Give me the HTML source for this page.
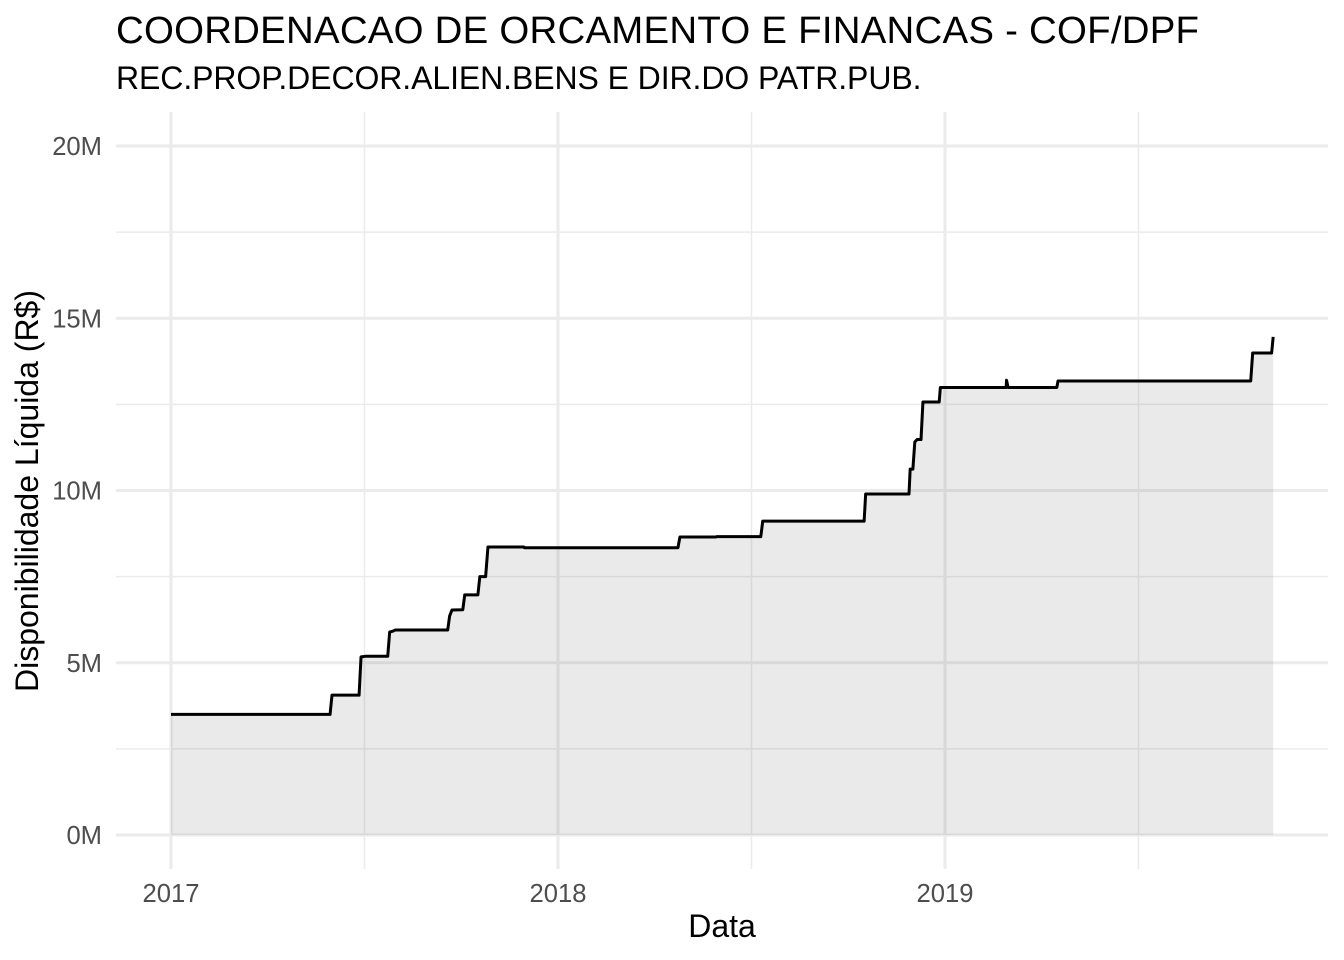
<!DOCTYPE html>
<html lang="pt">
<head>
<meta charset="utf-8">
<title>COORDENACAO DE ORCAMENTO E FINANCAS - COF/DPF</title>
<style>
  html, body { margin: 0; padding: 0; background: #fff; }
  svg { display: block; font-family: "Liberation Sans", sans-serif; }
</style>
</head>
<body>
<svg id="chart" xmlns="http://www.w3.org/2000/svg" width="1344" height="960" viewBox="0 0 1344 960">
  <rect x="0" y="0" width="1344" height="960" fill="#ffffff"/>
  <g id="grid"></g>
  <g id="series"></g>
  <g id="xticks"></g>
  <g id="yticks"></g>
  <text x="116" y="43" font-size="38.4" fill="#000" textLength="1083" lengthAdjust="spacing">COORDENACAO DE ORCAMENTO E FINANCAS - COF/DPF</text>
  <text x="116" y="89" font-size="32" fill="#000" textLength="805.5" lengthAdjust="spacing">REC.PROP.DECOR.ALIEN.BENS E DIR.DO PATR.PUB.</text>
  <text x="722" y="937" font-size="32" text-anchor="middle" fill="#000">Data</text>
  <text transform="translate(38,491) rotate(-90)" font-size="32" text-anchor="middle" fill="#000">Disponibilidade Líquida (R$)</text>
</svg>
<script>
// Chart data: dates as fractional years, values in millions of R$
const dates = [2017.000, 2017.411, 2017.416, 2017.486, 2017.491, 2017.504, 2017.560, 2017.565, 2017.574, 2017.579,
  2017.715, 2017.720, 2017.726, 2017.754, 2017.759, 2017.793, 2017.798, 2017.813, 2017.819, 2017.912,
  2017.913, 2018.310, 2018.315, 2018.408, 2018.410, 2018.524, 2018.529, 2018.791, 2018.795, 2018.907,
  2018.910, 2018.917, 2018.922, 2018.928, 2018.938, 2018.943, 2018.985, 2018.988, 2019.158, 2019.159,
  2019.163, 2019.289, 2019.292, 2019.790, 2019.795, 2019.844, 2019.848];
const values = [3.50, 3.50, 4.06, 4.06, 5.17, 5.19, 5.19, 5.89, 5.92, 5.95,
  5.95, 6.36, 6.53, 6.54, 6.97, 6.97, 7.50, 7.50, 8.36, 8.36,
  8.34, 8.34, 8.65, 8.65, 8.66, 8.66, 9.11, 9.11, 9.90, 9.90,
  10.62, 10.62, 11.41, 11.48, 11.48, 12.57, 12.57, 12.99, 12.99, 13.20,
  12.99, 12.99, 13.18, 13.18, 13.99, 13.99, 14.46];
const xMajorTicks = [2017, 2018, 2019];
const xMinorTicks = [2017.5, 2018.5, 2019.5];
const yMajorTicks = [0, 5, 10, 15, 20];
const yMinorTicks = [2.5, 7.5, 12.5, 17.5];
const yTickLabels = ["0M", "5M", "10M", "15M", "20M"];
const xTickLabels = ["2017", "2018", "2019"];

const NS = "http://www.w3.org/2000/svg";
const panel = { left: 116, right: 1328, top: 112, bottom: 869 };
function xScale(d) { return 171 + (d - 2017) * 387; }
function yScale(v) { return 835 - v * 34.45; }

function makeEl(tag, attrs, parent) {
  const el = document.createElementNS(NS, tag);
  for (const k in attrs) el.setAttribute(k, attrs[k]);
  parent.appendChild(el);
  return el;
}

const gridG = document.getElementById("grid");
yMinorTicks.forEach(function (v) {
  const el = makeEl("line", { x1: panel.left, x2: panel.right, y1: yScale(v), y2: yScale(v), stroke: "#ebebeb", "stroke-width": 1.55 }, gridG);
  
  
});
xMinorTicks.forEach(function (d) {
  const el = makeEl("line", { x1: xScale(d), x2: xScale(d), y1: panel.top, y2: panel.bottom, stroke: "#ebebeb", "stroke-width": 1.55 }, gridG);
  
  
});
yMajorTicks.forEach(function (v) {
  const el = makeEl("line", { x1: panel.left, x2: panel.right, y1: yScale(v), y2: yScale(v), stroke: "#ebebeb", "stroke-width": 3.1 }, gridG);
  
  
});
xMajorTicks.forEach(function (d) {
  const el = makeEl("line", { x1: xScale(d), x2: xScale(d), y1: panel.top, y2: panel.bottom, stroke: "#ebebeb", "stroke-width": 3.1 }, gridG);
  
  
});

const seriesG = document.getElementById("series");
const linePts = dates.map(function (d, i) { return xScale(d).toFixed(2) + "," + yScale(values[i]).toFixed(2); });
const areaPts = [xScale(dates[0]).toFixed(2) + "," + yScale(0)]
  .concat(linePts)
  .concat([xScale(dates[dates.length - 1]).toFixed(2) + "," + yScale(0)]);
const areaEl = makeEl("polygon", { points: areaPts.join(" "), fill: "#333333", "fill-opacity": 0.1, stroke: "none" }, seriesG);


const lineEl = makeEl("polyline", { points: linePts.join(" "), fill: "none", stroke: "#000000", "stroke-width": 3, "stroke-linejoin": "round", "stroke-linecap": "butt" }, seriesG);



const xTicksG = document.getElementById("xticks");
xMajorTicks.forEach(function (d, i) {
  const t = makeEl("text", { x: xScale(d), y: 902, "font-size": 25.6, fill: "#4d4d4d", "text-anchor": "middle" }, xTicksG);
  
  
  t.textContent = xTickLabels[i];
});
const yTicksG = document.getElementById("yticks");
yMajorTicks.forEach(function (v, i) {
  const t = makeEl("text", { x: 102, y: yScale(v) + 9, "font-size": 25.6, fill: "#4d4d4d", "text-anchor": "end" }, yTicksG);
  
  
  t.textContent = yTickLabels[i];
});
</script>
</body>
</html>
